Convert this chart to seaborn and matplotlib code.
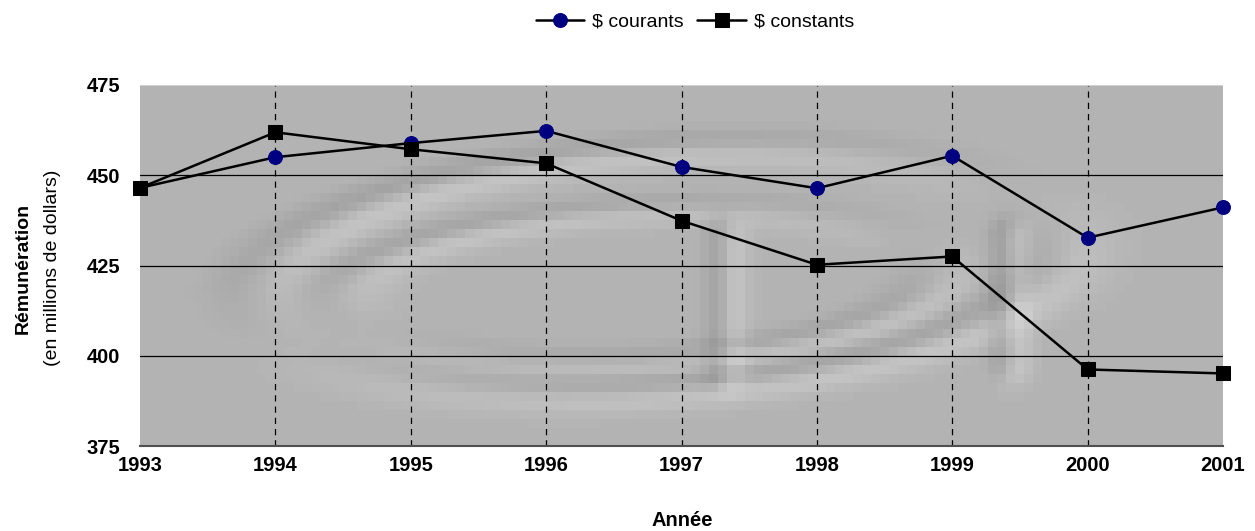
import numpy as np
import pandas as pd
import matplotlib
matplotlib.use("Agg")
import matplotlib.pyplot as plt
import seaborn as sns

# Rémunération annuelle, en millions de dollars
annees = [1993, 1994, 1995, 1996, 1997, 1998, 1999, 2000, 2001]
courants = [446.5, 455.0, 458.9, 462.3, 452.3, 446.4, 455.4, 432.7, 441.1]
constants = [446.5, 461.9, 457.2, 453.3, 437.4, 425.2, 427.5, 396.2, 395.1]
y_ticks = [375, 400, 425, 450, 475]
serie_labels = ["$ courants", "$ constants"]

sns.set_theme(style="white")
plt.rcParams["font.family"] = ["Liberation Sans", "DejaVu Sans"]
plt.rcParams["text.color"] = "black"
plt.rcParams["xtick.color"] = "black"
plt.rcParams["ytick.color"] = "black"

W, H = 1255, 531
fig = plt.figure(figsize=(W / 100, H / 100), dpi=100)
ax = fig.add_axes([140 / W, 1 - 446 / H, (1223 - 140) / W, (446 - 85) / H])

# embossed logo-style backdrop, coarse pixels
nx, ny = 120, 40
pw, ph = 1083.0, 361.0
px = (np.arange(nx) + 0.5) / nx * pw
py = (np.arange(ny) + 0.5) / ny * ph
X, Y = np.meshgrid(px, py)


def ring(cx, cy, rx, ry, ang, w):
    a = np.deg2rad(ang)
    xr = (X - cx) * np.cos(a) + (Y - cy) * np.sin(a)
    yr = -(X - cx) * np.sin(a) + (Y - cy) * np.cos(a)
    r = np.sqrt((xr / rx) ** 2 + (yr / ry) ** 2)
    return np.exp(-(((r - 1) * np.sqrt(rx * ry)) / w) ** 2)


def stroke(cx, y0, y1, w):
    inside = np.exp(-((Y - np.clip(Y, y0, y1)) / 15) ** 2)
    return np.exp(-((X - cx) / w) ** 2) * inside


shape = (ring(520, 185, 400, 120, -4, 22)
         + 0.8 * ring(500, 200, 300, 75, -3, 18)
         + 0.8 * stroke(585, 150, 290, 14)
         + 0.8 * stroke(870, 150, 280, 14))
gy, gx = np.gradient(shape, py, px)
shade = -(gx * 1.0 + gy * 0.6)
shade /= np.abs(shade).max()
bg = np.clip(0.705 + 0.11 * shade, 0, 1)
ax.imshow(bg, cmap="gray", vmin=0, vmax=1, aspect="auto", interpolation="nearest",
          extent=(annees[0], annees[-1], y_ticks[0], y_ticks[-1]), origin="upper", zorder=0)

# grid
for yv in y_ticks[1:-1]:
    ax.axhline(yv, color="black", lw=0.9, zorder=1)
for xv in annees[1:-1]:
    ax.axvline(xv, color="black", lw=0.9, ls=(0, (5, 4)), zorder=1)
ax.axhline(y_ticks[-1], color="#d8d8d8", lw=1.2, zorder=1)

df = pd.DataFrame({"Année": annees * 2,
                   "valeur": courants + constants,
                   "serie": [serie_labels[0]] * len(annees) + [serie_labels[1]] * len(annees)})

sns.lineplot(data=df[df.serie == serie_labels[0]], x="Année", y="valeur", ax=ax,
             color="black", lw=1.8, marker="o", markersize=10,
             markerfacecolor="#000080", markeredgecolor="#000080",
             label=serie_labels[0], zorder=3, clip_on=False)
sns.lineplot(data=df[df.serie == serie_labels[1]], x="Année", y="valeur", ax=ax,
             color="black", lw=1.8, marker="s", markersize=9.5,
             markerfacecolor="black", markeredgecolor="black",
             label=serie_labels[1], zorder=3, clip_on=False)

ax.set_xlim(annees[0], annees[-1])
ax.set_ylim(y_ticks[0], y_ticks[-1])
ax.set_xticks(annees)
ax.set_yticks(y_ticks)
ax.set_xticklabels([str(a) for a in annees], fontsize=14.5, fontweight="bold")
ax.set_yticklabels([str(t) for t in y_ticks], fontsize=14.5, fontweight="bold")
ax.tick_params(axis="x", which="major", direction="out", length=5, width=1, color="#404040", pad=2)
ax.tick_params(axis="y", length=0, pad=14)
ax.set_xlabel("")
ax.set_ylabel("")
for side in ["top", "right", "left"]:
    ax.spines[side].set_visible(False)
ax.spines["bottom"].set_color("#505050")
ax.spines["bottom"].set_linewidth(1.5)

handles, labels = ax.get_legend_handles_labels()
ax.get_legend().remove()
fig.legend(handles, labels, loc="center", bbox_to_anchor=(695 / W, 1 - 22 / H),
           ncol=2, frameon=False, fontsize=14, handlelength=2.5, columnspacing=0.7,
           handletextpad=0.4)

fig.text(682 / W, 1 - 520 / H, "Année", ha="center", va="center",
         fontsize=14.5, fontweight="bold")
fig.text(23 / W, 1 - 268 / H, "Rémunération", rotation=90, ha="center", va="center",
         fontsize=14, fontweight="bold")
fig.text(53 / W, 1 - 268 / H, "(en millions de dollars)", rotation=90, ha="center",
         va="center", fontsize=14)

fig.savefig("out.png", dpi=100)
